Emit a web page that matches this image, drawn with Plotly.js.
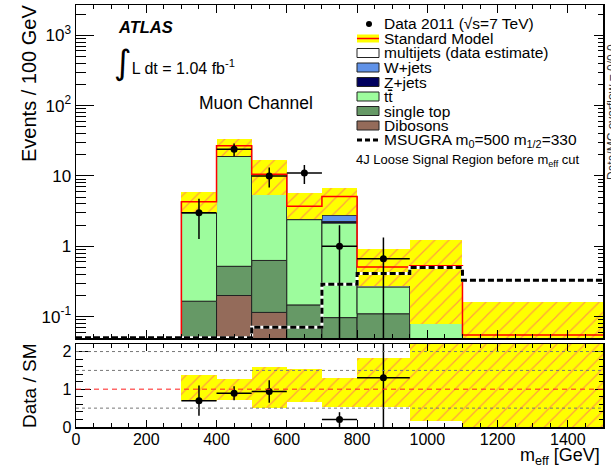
<!DOCTYPE html>
<html><head><meta charset="utf-8">
<script src="https://cdn.plot.ly/plotly-3.0.1.min.js"></script>
<style>html,body{margin:0;padding:0;background:#fff}#plot{width:611px;height:470px}</style>
</head><body><div id="plot"></div>
<script>
// ---- data (events / 100 GeV) ----
const binLow  = [300, 400, 500, 600, 700, 800, 950, 1100];
const binHigh = [400, 500, 600, 700, 800, 950, 1100, 1500];
const dibosons  = [0, 0.20, 0.115, 0, 0, 0, 0, 0];
const singleTop = [0.166, 0.32, 0.515, 0.147, 0.097, 0.11, 0, 0];
const ttbar     = [2.83, 18.4, 4.87, 2.25, 2.05, 0.155, 0.08, 0];
const zjets     = [0, 0, 0, 0, 0.10, 0, 0, 0];
const wjets     = [0, 0, 0, 0, 0.52, 0, 0, 0];
const multijets = [1.3, 7.9, 5.1, 1.3, 2.33, 0.245, 0.45, 0.055];
const bandLow   = [3.0, 19.0, 5.45, 2.43, 2.77, 0.27, 0.08, 0.0001];
const bandHigh  = [5.97, 33.8, 16.9, 5.65, 6.67, 0.93, 1.245, 0.161];
const dataX    = [350, 450, 550, 650, 750, 875];
const dataY    = [3, 24, 10, 11, 1, 0.667];
const dataErr  = [1.73, 4.9, 3.16, 3.32, 1.0, 0.667];
const dataXErr = [50, 50, 50, 50, 50, 75];
const sugraEdges = [0, 500, 600, 700, 800, 950, 1100, 1500];
const sugraY     = [0.05, 0.071, 0.071, 0.29, 0.41, 0.50, 0.33];
const yTickVals = [0.1, 1, 10, 100, 1000];
const yTickText = ['10<sup>-1</sup>', '1', '10', '10<sup>2</sup>', '10<sup>3</sup>'];
const ratioRefLines = [0.5, 1.5, 2.0];

// ---- geometry helpers (pixels -> paper) ----
const L = 76, R = 603, T = 5, B = 427;
const px = x => (x - L) / (R - L);
const py = y => (B - y) / (B - T);
const TOPLOG = [-1.303, 3.43];
const RMAX = 2.2;
const FONT = 'Liberation Sans, Arial, Helvetica, sans-serif';

const centers = binLow.map((l, i) => (l + binHigh[i]) / 2);
const widths = binLow.map((l, i) => binHigh[i] - l);

const comps = [
  {v: dibosons, c: '#946b5a'},
  {v: singleTop, c: '#669966'},
  {v: ttbar, c: '#9dfc9d'},
  {v: zjets, c: '#00005f'},
  {v: wjets, c: '#6092e8'},
  {v: multijets, c: '#ffffff'}
];
const traces = [];
const cum = binLow.map(() => 0);
comps.forEach(cp => {
  const xs = [], ys = [], bs = [], ws = [];
  cp.v.forEach((val, i) => {
    if (val > 0) { xs.push(centers[i]); ys.push(val); bs.push(cum[i] > 0 ? cum[i] : 1e-4); ws.push(widths[i]); }
    cum[i] += val;
  });
  traces.push({type: 'bar', x: xs, y: ys, base: bs, width: ws, xaxis: 'x', yaxis: 'y',
    marker: {color: cp.c, line: {color: '#222', width: 1}}, hoverinfo: 'skip', showlegend: false});
});
const sm = cum.slice();

const hatch = {shape: '/', fgcolor: '#ffa040', bgcolor: '#ffff00', size: 10, solidity: 0.12, fillmode: 'replace'};
traces.push({type: 'bar', x: centers, width: widths, base: bandLow, y: bandHigh.map((h, i) => h - bandLow[i]),
  xaxis: 'x', yaxis: 'y', marker: {color: '#ffff00', line: {width: 0}, pattern: hatch}, hoverinfo: 'skip', showlegend: false});

// SM total line
traces.push({type: 'scatter', mode: 'lines', x: [binLow[0]].concat(binLow, [binHigh[binHigh.length - 1]]),
  y: [1e-4].concat(sm, [sm[sm.length - 1]]), line: {color: '#ff0000', width: 1.5, shape: 'hv'},
  xaxis: 'x', yaxis: 'y', hoverinfo: 'skip', showlegend: false});

// MSUGRA
const sy = sugraY.concat([sugraY[sugraY.length - 1]]);
traces.push({type: 'scatter', mode: 'lines', x: sugraEdges, y: sy, line: {color: '#ffffff', width: 3, shape: 'hv'},
  xaxis: 'x', yaxis: 'y', hoverinfo: 'skip', showlegend: false});
traces.push({type: 'scatter', mode: 'lines', x: sugraEdges, y: sy, line: {color: '#000000', width: 3, shape: 'hv', dash: '6px,3px'},
  xaxis: 'x', yaxis: 'y', hoverinfo: 'skip', showlegend: false});

// data
traces.push({type: 'scatter', mode: 'markers', x: dataX, y: dataY,
  marker: {color: 'black', size: 7},
  error_y: {type: 'data', array: dataErr, arrayminus: dataErr, width: 0, thickness: 1.5, color: 'black'},
  error_x: {type: 'data', array: dataXErr, arrayminus: dataXErr, width: 0, thickness: 1.5, color: 'black'},
  xaxis: 'x', yaxis: 'y', hoverinfo: 'skip', showlegend: false});

// ratio band
traces.push({type: 'bar', x: centers, width: widths, base: bandLow.map((l, i) => l / sm[i]),
  y: bandHigh.map((h, i) => (h - bandLow[i]) / sm[i]),
  xaxis: 'x2', yaxis: 'y2', marker: {color: '#ffff00', line: {width: 0}, pattern: hatch}, hoverinfo: 'skip', showlegend: false});

// ratio data
const rX = [], rY = [], rE = [], rXE = [];
dataX.forEach((x, i) => {
  const k = centers.indexOf(x);
  const r = dataY[i] / sm[k];
  if (r <= RMAX) { rX.push(x); rY.push(r); rE.push(dataErr[i] / sm[k]); rXE.push(dataXErr[i]); }
});
traces.push({type: 'scatter', mode: 'markers', x: rX, y: rY, marker: {color: 'black', size: 7},
  error_y: {type: 'data', array: rE, arrayminus: rE, width: 0, thickness: 1.5, color: 'black'},
  error_x: {type: 'data', array: rXE, arrayminus: rXE, width: 0, thickness: 1.5, color: 'black'},
  xaxis: 'x2', yaxis: 'y2', hoverinfo: 'skip', showlegend: false});

// dummy traces for overlay (right side tick) axes
traces.push({type: 'scatter', x: [null], y: [null], xaxis: 'x', yaxis: 'y3', hoverinfo: 'skip', showlegend: false});
traces.push({type: 'scatter', x: [null], y: [null], xaxis: 'x2', yaxis: 'y4', hoverinfo: 'skip', showlegend: false});

const minorTop = [];
for (let d = -2; d <= 3; d++) for (let m = 2; m <= 9; m++) minorTop.push(m * Math.pow(10, d));

const shapes = [];
ratioRefLines.forEach(v => shapes.push({type: 'line', xref: 'x2', yref: 'y2', x0: 0, x1: 1500, y0: v, y1: v,
  line: {color: '#777', width: 1, dash: 'dot'}, layer: 'above'}));
shapes.push({type: 'line', xref: 'x2', yref: 'y2', x0: 0, x1: 1500, y0: 1, y1: 1,
  line: {color: 'rgba(255,40,40,0.7)', width: 1.5, dash: '5px,4px'}, layer: 'above'});

// legend
const legTextX = 382, symX0 = 357, symX1 = 379;
const rowY = i => 24 + 14.5 * i;
const legItems = [
  {t: 'Data 2011 (√s=7 TeV)', k: 'dot'},
  {t: 'Standard Model', k: 'sm'},
  {t: 'multijets (data estimate)', k: 'box', c: '#ffffff'},
  {t: 'W+jets', k: 'box', c: '#6092e8'},
  {t: 'Z+jets', k: 'box', c: '#00005f'},
  {t: 'tt\u0304', k: 'box', c: '#9dfc9d', bar: true},
  {t: 'single top', k: 'box', c: '#669966'},
  {t: 'Dibosons', k: 'box', c: '#946b5a'},
  {t: 'MSUGRA m<sub>0</sub>=500 m<sub>1/2</sub>=330', k: 'dash'}
];
const annotations = [];
legItems.forEach((it, i) => {
  const y = rowY(i);
  annotations.push({xref: 'paper', yref: 'paper', x: px(legTextX), y: py(y), xanchor: 'left', yanchor: 'middle',
    text: it.t, showarrow: false, font: {family: FONT, size: 15.5, color: 'black'}});
  if (it.bar) {
    shapes.push({type: 'line', xref: 'paper', yref: 'paper', x0: px(387.8), x1: px(392), y0: py(y - 6.5), y1: py(y - 6.5),
      line: {color: 'black', width: 1}});
  }
  if (it.k === 'dot') {
    shapes.push({type: 'circle', xref: 'paper', yref: 'paper', x0: px(366), x1: px(372), y0: py(y + 3), y1: py(y - 3),
      fillcolor: 'black', line: {width: 0}});
  } else if (it.k === 'sm') {
    shapes.push({type: 'rect', xref: 'paper', yref: 'paper', x0: px(symX0), x1: px(symX1), y0: py(y + 4), y1: py(y - 4),
      fillcolor: '#ffff00', line: {width: 0}});
    shapes.push({type: 'line', xref: 'paper', yref: 'paper', x0: px(symX0), x1: px(symX1), y0: py(y), y1: py(y),
      line: {color: '#ff0000', width: 1.5}});
  } else if (it.k === 'box') {
    shapes.push({type: 'rect', xref: 'paper', yref: 'paper', x0: px(symX0), x1: px(symX1), y0: py(y + 4.5), y1: py(y - 4.5),
      fillcolor: it.c, line: {color: '#222', width: 1}});
  } else if (it.k === 'dash') {
    shapes.push({type: 'line', xref: 'paper', yref: 'paper', x0: px(symX0), x1: px(symX1), y0: py(y), y1: py(y),
      line: {color: 'black', width: 3, dash: '5px,3px'}});
  }
});
annotations.push({xref: 'paper', yref: 'paper', x: px(354), y: py(160.5), xanchor: 'left', yanchor: 'middle',
  text: '4J Loose Signal Region before m<sub>eff</sub> cut', showarrow: false, font: {family: FONT, size: 13, color: 'black'}});

// labels
annotations.push({xref: 'paper', yref: 'paper', x: px(116), y: py(27), xanchor: 'left', yanchor: 'middle',
  text: '<b><i>ATLAS</i></b>', showarrow: false, font: {family: FONT, size: 16.5, color: 'black'}});
annotations.push({xref: 'paper', yref: 'paper', x: px(112), y: py(62), xanchor: 'left', yanchor: 'middle',
  text: '<span style="font-size:34px;font-family:\'DejaVu Sans\'">∫</span>L dt = 1.04 fb<sup>-1</sup>',
  showarrow: false, font: {family: FONT, size: 16, color: 'black'}});
annotations.push({xref: 'paper', yref: 'paper', x: px(197), y: py(102.5), xanchor: 'left', yanchor: 'middle',
  text: 'Muon Channel', showarrow: false, font: {family: FONT, size: 17.5, color: 'black'}});
annotations.push({xref: 'paper', yref: 'paper', x: px(29), y: py(84), xanchor: 'center', yanchor: 'middle', textangle: -90,
  text: 'Events / 100 GeV', showarrow: false, font: {family: FONT, size: 20, color: 'black'}});
annotations.push({xref: 'paper', yref: 'paper', x: px(29), y: py(386), xanchor: 'center', yanchor: 'middle', textangle: -90,
  text: 'Data / SM', showarrow: false, font: {family: FONT, size: 19, color: 'black'}});
annotations.push({xref: 'paper', yref: 'paper', x: px(602), y: py(456), xanchor: 'right', yanchor: 'middle',
  text: 'm<sub>eff</sub> [GeV]', showarrow: false, font: {family: FONT, size: 18, color: 'black'}});
annotations.push({xref: 'paper', yref: 'paper', x: px(612), y: py(112), xanchor: 'center', yanchor: 'middle', textangle: -90,
  text: 'Data/MC overflow = 0/0.0', showarrow: false, font: {family: FONT, size: 12, color: '#333'}});

const axBase = {showgrid: false, zeroline: false, tickcolor: 'black', linecolor: 'black', tickwidth: 1,
  tickfont: {family: FONT, size: 16, color: 'black'}};

const layout = {
  width: 611, height: 470, margin: {l: 76, r: 8, t: 5, b: 43, pad: 0},
  paper_bgcolor: 'white', plot_bgcolor: 'white', barmode: 'overlay', bargap: 0, showlegend: false,
  font: {family: FONT, color: 'black', size: 16},
  xaxis: Object.assign({}, axBase, {domain: [0, 1], anchor: 'y', range: [0, 1500], showticklabels: false,
    ticks: 'inside', ticklen: 8, tick0: 0, dtick: 200, minor: {dtick: 50, ticklen: 4, ticks: 'inside', tickcolor: 'black'},
    showline: true, linewidth: 1.5, mirror: 'ticks'}),
  yaxis: Object.assign({}, axBase, {domain: [py(338), 1], anchor: 'x', type: 'log', range: TOPLOG,
    tickmode: 'array', tickvals: yTickVals, ticktext: yTickText, ticks: 'inside', ticklen: 18,
    minor: {tickmode: 'array', tickvals: minorTop, ticks: 'inside', ticklen: 10, tickcolor: 'black'},
    showline: true, linewidth: 1.5, mirror: true, tickfont: {family: FONT, size: 17, color: 'black'}}),
  yaxis3: Object.assign({}, axBase, {overlaying: 'y', side: 'right', anchor: 'x', type: 'log', range: TOPLOG,
    tickmode: 'array', tickvals: yTickVals, ticks: 'inside', ticklen: 9, showticklabels: false,
    minor: {tickmode: 'array', tickvals: minorTop, ticks: 'inside', ticklen: 5, tickcolor: 'black'}, showline: false}),
  xaxis2: Object.assign({}, axBase, {domain: [0, 1], anchor: 'y2', matches: 'x', range: [0, 1500],
    ticks: 'inside', ticklen: 7, tick0: 0, dtick: 200, minor: {dtick: 50, ticklen: 4, ticks: 'inside', tickcolor: 'black'},
    showline: true, linewidth: 1.5, mirror: 'ticks', ticklabelstandoff: -3}),
  yaxis2: Object.assign({}, axBase, {domain: [0, py(344)], anchor: 'x2', range: [0, RMAX],
    tickmode: 'array', tickvals: [0, 1, 2], ticks: 'inside', ticklen: 15,
    minor: {dtick: 0.2, tick0: 0, ticks: 'inside', ticklen: 7, tickcolor: 'black'},
    showline: true, linewidth: 1.5, mirror: true}),
  yaxis4: Object.assign({}, axBase, {overlaying: 'y2', side: 'right', anchor: 'x2', range: [0, RMAX],
    tickmode: 'array', tickvals: [0, 1, 2], ticks: 'inside', ticklen: 8, showticklabels: false,
    minor: {dtick: 0.2, tick0: 0, ticks: 'inside', ticklen: 4, tickcolor: 'black'}, showline: false}),
  shapes: shapes,
  annotations: annotations
};

Plotly.newPlot('plot', traces, layout, {staticPlot: true, displayModeBar: false});
</script>
</body></html>
